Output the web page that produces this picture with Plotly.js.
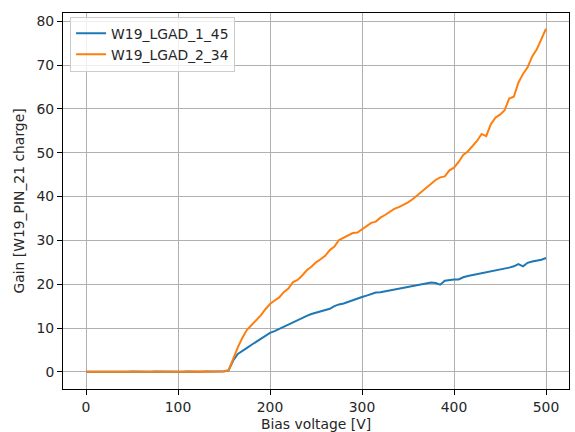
<!DOCTYPE html>
<html>
<head>
<meta charset="utf-8">
<script src="https://cdn.plot.ly/plotly-3.0.1.min.js"></script>
<style>html,body{margin:0;padding:0;background:#fff;}#chart{width:575px;height:432px;}</style>
</head>
<body>
<div id="chart"></div>
<script>
const biasVoltage = [0,5,10,15,20,25,30,35,40,45,50,55,60,65,70,75,80,85,90,95,100,105,110,115,120,125,130,135,140,145,150,
155,160,165,170,175,180,185,190,195,200,
205,210,215,220,225,230,235,240,245,250,
255,260,265,270,275,280,285,290,295,300,
305,310,315,320,325,330,335,340,345,350,
355,360,365,370,375,380,385,390,395,400,
405,410,415,420,425,430,435,440,445,450,
455,460,465,470,475,480,485,490,495,500];

const gainLGAD1 = [0.05,0.02,0.08,0.04,0.10,0.03,0.06,0.02,0.07,0.05,0.09,0.04,0.12,0.06,0.03,0.08,0.05,0.10,0.04,0.07,0.03,0.06,0.09,0.05,0.08,0.04,0.10,0.07,0.12,0.10,0.15,
0.35,2.6,4.1,4.9,5.5,6.2,6.9,7.7,8.2,8.9,
9.3,9.8,10.4,10.9,11.4,11.8,12.3,12.8,13.2,13.5,
13.8,14.1,14.4,15.0,15.4,15.6,16.0,16.4,16.8,17.1,
17.4,17.8,18.1,18.2,18.4,18.6,18.8,18.9,19.1,19.3,
19.5,19.7,19.9,20.2,20.4,20.3,19.9,20.8,21.0,21.1,
21.1,21.6,21.9,22.1,22.3,22.5,22.7,22.9,23.1,23.3,
23.6,23.8,24.1,24.6,24.1,24.9,25.2,25.4,25.6,26.0];

const gainLGAD2 = [0.02,0.04,0.01,0.06,0.03,0.05,0.02,0.07,0.04,0.03,0.06,0.02,0.05,0.08,0.04,0.03,0.06,0.02,0.05,0.03,0.04,0.02,0.06,0.03,0.05,0.04,0.07,0.05,0.08,0.06,0.10,
0.4,3.2,5.6,7.8,9.6,10.7,11.8,12.9,14.3,15.5,
16.3,17.0,18.2,19.0,20.5,21.0,22.0,23.2,24.0,25.0,
25.7,26.5,27.8,28.6,30.1,30.6,31.2,31.7,31.8,32.6,
33.4,34.0,34.3,35.2,35.8,36.6,37.2,37.6,38.1,38.7,
39.4,40.3,41.1,42.0,42.8,43.8,44.4,44.6,46.0,46.6,
47.9,49.5,50.3,51.5,52.7,54.3,53.8,56.5,58.0,58.7,
59.7,62.4,62.8,66.0,68.0,69.5,72.0,73.6,75.8,78.3];

const seriesNames = ["W19_LGAD_1_45", "W19_LGAD_2_34"];
const xTicks = [0,100,200,300,400,500];
const yTicks = [0,10,20,30,40,50,60,70,80];

const font = {family: "DejaVu Sans", size: 13.9, color: "#262626"};

const traces = [
  {x: biasVoltage, y: gainLGAD1, name: seriesNames[0], type: "scatter", mode: "lines",
   line: {color: "#1f77b4", width: 2}},
  {x: biasVoltage, y: gainLGAD2, name: seriesNames[1], type: "scatter", mode: "lines",
   line: {color: "#ff7f0e", width: 2}}
];

const axisCommon = {
  showline: true, mirror: true, linecolor: "#000", linewidth: 1,
  ticks: "outside", ticklen: 5, tickwidth: 1, tickcolor: "#000",
  showgrid: true, gridcolor: "#b0b0b0", gridwidth: 1,
  zeroline: false, tickfont: font
};

const layout = {
  width: 575, height: 432,
  margin: {l: 63, r: 6, t: 13, b: 43},
  paper_bgcolor: "#fff", plot_bgcolor: "#fff",
  font: font,
  showlegend: true,
  legend: {x: 0.014, y: 0.99, xanchor: "left", yanchor: "top",
           bgcolor: "rgba(255,255,255,0.8)", bordercolor: "#cccccc", borderwidth: 1,
           font: font, tracegroupgap: 0},
  xaxis: Object.assign({}, axisCommon, {
    range: [-25, 525], tickvals: xTicks,
    title: {text: "Bias voltage [V]", font: font, standoff: 5}
  }),
  yaxis: Object.assign({}, axisCommon, {
    range: [-3.9, 81.9], tickvals: yTicks,
    title: {text: "Gain [W19_PIN_21 charge]", font: font, standoff: 8}
  })
};

Plotly.newPlot("chart", traces, layout, {staticPlot: true, displayModeBar: false});
</script>
</body>
</html>
